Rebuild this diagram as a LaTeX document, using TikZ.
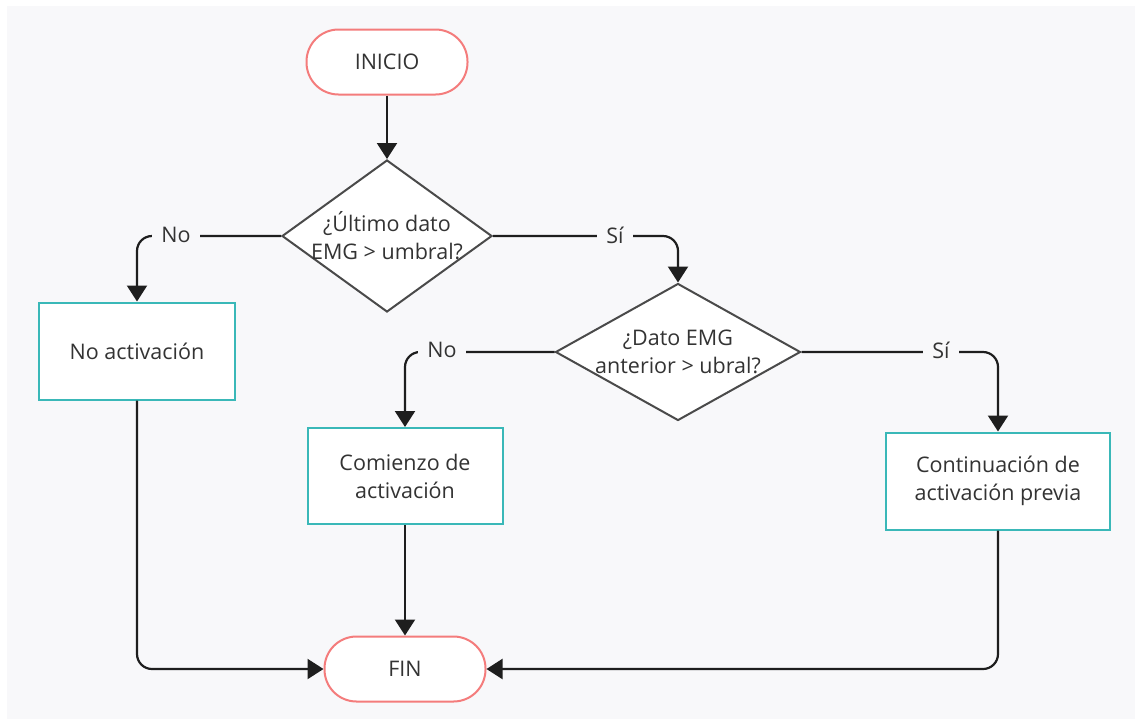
\documentclass[tikz,border=0pt]{standalone}
\usepackage{fontspec}
\setmainfont{Open Sans}
\usetikzlibrary{shapes.geometric,arrows.meta}
\definecolor{bgc}{HTML}{F8F8FA}
\definecolor{txtc}{HTML}{333333}
\definecolor{termc}{HTML}{F47C7C}
\definecolor{procc}{HTML}{3AB8B8}
\definecolor{decc}{HTML}{4A4A4A}
\definecolor{arrc}{HTML}{1E1E1E}
\begin{document}
\begin{tikzpicture}[x=1pt,y=-1pt,
  every node/.style={font=\fontsize{21.5}{28}\selectfont, text=txtc},
  term/.style={draw=termc, line width=2pt, fill=white, rounded corners=32pt, minimum width=161pt, minimum height=65pt, inner sep=0pt},
  proc/.style={draw=procc, line width=2pt, fill=white, inner sep=0pt, align=center},
  dec/.style={draw=decc, line width=2pt, fill=white, diamond, inner sep=0pt},
  dectxt/.style={align=center, inner sep=0pt, font=\fontsize{21.5}{28}\selectfont, text=txtc},
  lbl/.style={fill=bgc, inner xsep=9pt, inner ysep=3pt, text=txtc},
  arr/.style={draw=arrc, line width=2.2pt, rounded corners=15pt, -{Triangle[length=16pt,width=20pt]}}
]
\useasboundingbox (0,0) rectangle (1138,724);
\fill[bgc] (7,6) rectangle (1135,719);

\node[term] (ini) at (387,62) {INICIO};
\node[dec, minimum width=210pt, minimum height=152pt,
  label={[dectxt]center:{¿Último dato\\EMG > umbral?}}] (d1) at (387,236) {};
\node[proc, minimum width=196pt, minimum height=97pt] (b1) at (137,351) {No activación};
\node[dec, minimum width=245pt, minimum height=137pt,
  label={[dectxt]center:{¿Dato EMG\\anterior > ubral?}}] (d2) at (678,352) {};
\node[proc, minimum width=195pt, minimum height=96pt] (b2) at (405,476) {Comienzo de\\activación};
\node[proc, minimum width=224pt, minimum height=97pt] (b3) at (998,481) {Continuación de\\activación previa};
\node[term] (fin) at (405,669) {FIN};

\draw[arr] (ini.south) -- (d1.north);
\draw[arr] (d1.west) -| (b1.north);
\node[lbl] at (176,235) {No};
\draw[arr] (d1.east) -| (d2.north);
\node[lbl] at (615,235) {Sí};
\draw[arr] (d2.west) -| (b2.north);
\node[lbl] at (442,350) {No};
\draw[arr] (d2.east) -| (b3.north);
\node[lbl] at (941,350) {Sí};
\draw[arr] (b2.south) -- (fin.north);
\draw[arr] (b1.south) |- (fin.west);
\draw[arr] (b3.south) |- (fin.east);
\end{tikzpicture}
\end{document}
